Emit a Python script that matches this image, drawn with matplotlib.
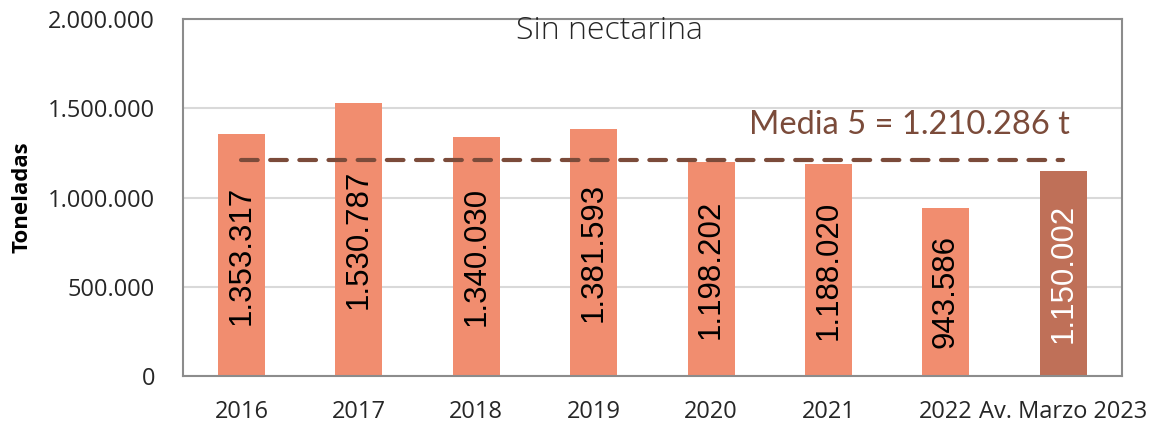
import matplotlib
matplotlib.use("Agg")
import matplotlib.pyplot as plt

categories = ["2016", "2017", "2018", "2019", "2020", "2021", "2022", "Av. Marzo 2023"]
values = [1353317, 1530787, 1340030, 1381593, 1198202, 1188020, 943586, 1150002]
value_labels = ["1.353.317", "1.530.787", "1.340.030", "1.381.593", "1.198.202",
                "1.188.020", "943.586", "1.150.002"]
mean_value = 1210286
mean_label = "Media 5 = 1.210.286 t"
yticks = [0, 500000, 1000000, 1500000, 2000000]
ytick_labels = ["0", "500.000", "1.000.000", "1.500.000", "2.000.000"]
subtitle = "Sin nectarina"
ylabel = "Toneladas"

W, H = 1155, 424
fig = plt.figure(figsize=(W / 100, H / 100), dpi=100)
ax = fig.add_axes([182.7 / W, 1 - 376 / H, 939.3 / W, (376 - 19) / H])

bar_colors = ["#F18D6F"] * 7 + ["#BF7058"]
label_colors = ["black"] * 7 + ["white"]
x = list(range(len(categories)))
ax.bar(x, values, width=0.40, color=bar_colors, zorder=2)

for xi, v, lab, c in zip(x, values, value_labels, label_colors):
    ax.text(xi, v / 2, lab, rotation=90, ha="center", va="center",
            fontsize=22.5, color=c, family="Liberation Sans", zorder=4)

ax.plot([x[0], x[-1]], [mean_value, mean_value], linestyle=(0, (4, 3)),
        color="#7B4B3A", linewidth=3, zorder=3, dash_capstyle="round")
ax.text(5.69, 1406000, mean_label, ha="center", va="center", fontsize=23.5,
        color="#7B4B3A", family="Lato")

ax.set_xlim(-0.5, len(categories) - 0.5)
ax.set_ylim(0, 2000000)
ax.set_yticks(yticks)
ax.set_yticklabels(ytick_labels, family="Open Sans", fontsize=17, color="#262626")
ax.set_xticks(x)
ax.set_xticklabels(categories, family="Open Sans", fontsize=17, color="#262626")
ax.tick_params(axis="y", length=0, pad=20)
ax.tick_params(axis="x", length=0, pad=17)
ax.grid(axis="y", color="#D9D9D9", linewidth=1.5, zorder=0)
ax.set_axisbelow(True)
for s in ax.spines.values():
    s.set_color("#8C8C8C")
    s.set_linewidth(1.5)

fig.text(609 / W, 1 - 31 / H, subtitle, ha="center", va="center",
         fontsize=23, family="Open Sans", fontweight="light", color="#262626")
fig.text(22 / W, 1 - 197.5 / H, ylabel, rotation=90, ha="center", va="center",
         fontsize=16, fontweight="bold", family="Open Sans", color="black")

fig.savefig("out.png", dpi=100)
